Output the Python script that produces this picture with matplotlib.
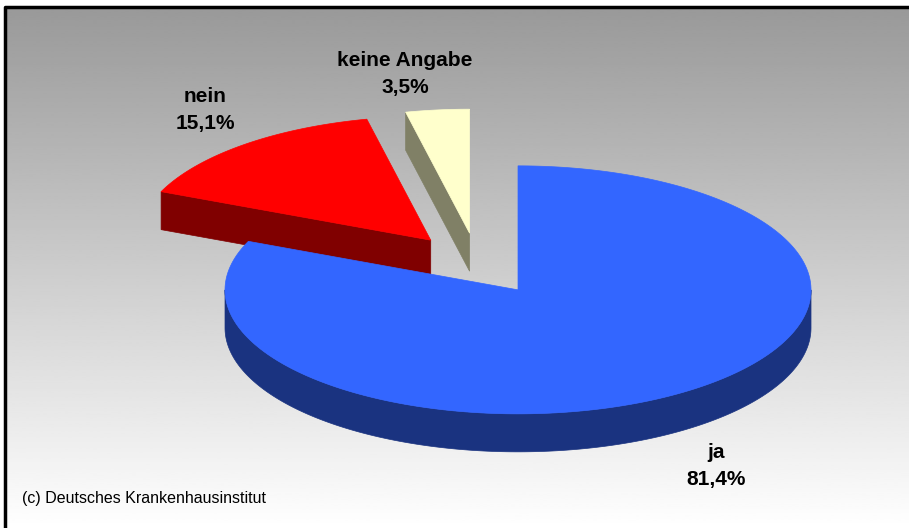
import numpy as np
import matplotlib.pyplot as plt
from matplotlib.patches import Polygon

# data
labels = ['ja', 'nein', 'keine Angabe']
shares = [81.4, 15.1, 3.5]
share_text = ['81,4%', '15,1%', '3,5%']
top_colors = ['#3366FF', '#FF0000', '#FFFFCC']
side_colors = ['#1A3380', '#800000', '#808066']
label_pos = [(716, 466), (205, 110), (405, 74)]

W, H = 909, 528
fig = plt.figure(figsize=(W / 100, H / 100), dpi=100)
ax = fig.add_axes([0, 0, 1, 1])
ax.set_xlim(0, W)
ax.set_ylim(H, 0)
ax.axis('off')

# background gradient + frame
grad = np.linspace(0.6, 1.0, 256)[:, None]
ax.imshow(grad, cmap='gray', vmin=0, vmax=1, extent=(5, W + 5, H, 7),
          aspect='auto', zorder=0, interpolation='bilinear')
ax.plot([5, 5, W + 5], [H + 5, 7, 7], color='black', lw=2.5, zorder=1,
        solid_capstyle='projecting')

# 3d pie geometry
cx, cy = 477.6, 264
rx, ry, depth, explode = 293, 124, 38, 0.25


def pt(ox, oy, t, dz=0):
    return ox + rx * np.cos(t), oy - ry * np.sin(t) + dz


fracs = np.array(shares) / sum(shares)
slices = []
a0 = 90.0
for i, f in enumerate(fracs):
    a1 = a0 - 360 * f
    mid = np.radians((a0 + a1) / 2)
    ox = cx + explode * rx * np.cos(mid)
    oy = cy - explode * ry * np.sin(mid)
    slices.append((i, a1, a0, ox, oy))
    a0 = a1

# back to front
for i, lo, hi, ox, oy in sorted(slices, key=lambda s: s[4]):
    fc, sc = top_colors[i], side_colors[i]
    # radial faces
    for edge, vis in ((lo, np.cos(np.radians(lo)) > 1e-6),
                      (hi, np.cos(np.radians(hi)) < -1e-6)):
        if vis:
            x, y = pt(ox, oy, np.radians(edge))
            poly = [(ox, oy), (x, y), (x, y + depth), (ox, oy + depth)]
            ax.add_patch(Polygon(poly, closed=True, fc=sc, ec=sc, lw=0.5, zorder=2))
    # outer curved side (front half only)
    for k in range(-2, 2):
        a = max(lo, -180 + 360 * k)
        b = min(hi, 360 * k)
        if a < b:
            t = np.radians(np.linspace(a, b, 200))
            xs, ys = pt(ox, oy, t)
            poly = np.column_stack([np.r_[xs, xs[::-1]], np.r_[ys, ys[::-1] + depth]])
            ax.add_patch(Polygon(poly, closed=True, fc=sc, ec=sc, lw=0.5, zorder=2))
    # top face
    t = np.radians(np.linspace(lo, hi, 300))
    xs, ys = pt(ox, oy, t)
    poly = np.column_stack([np.r_[ox, xs], np.r_[oy, ys]])
    ax.add_patch(Polygon(poly, closed=True, fc=fc, ec=fc, lw=0.5, zorder=2))

# labels
for lab, txt, (lx, ly) in zip(labels, share_text, label_pos):
    ax.text(lx, ly, lab + '\n' + txt, ha='center', va='center', fontsize=15,
            fontweight='bold', family='Liberation Sans', linespacing=1.5, zorder=3)

ax.text(22, 498, '(c) Deutsches Krankenhausinstitut', ha='left', va='center',
        fontsize=11.5, family='Liberation Sans', zorder=3)

fig.savefig('out.png', dpi=100)
